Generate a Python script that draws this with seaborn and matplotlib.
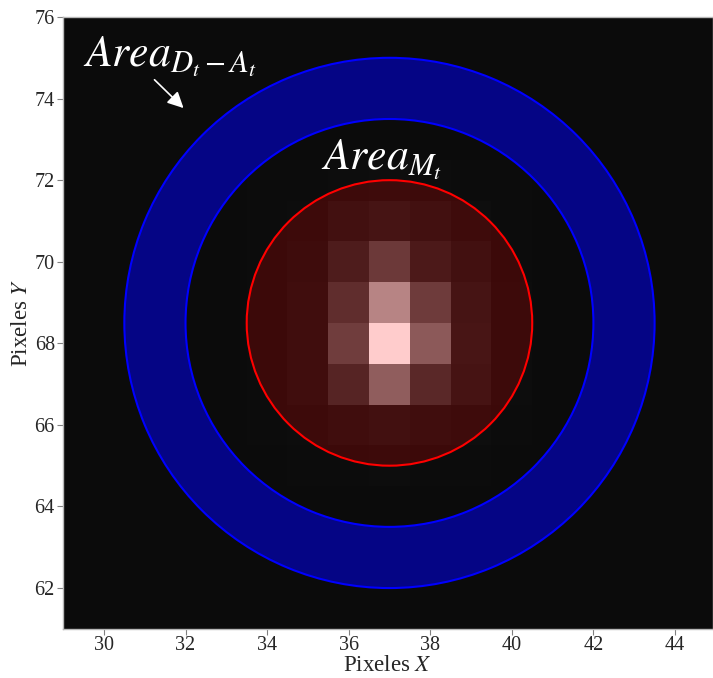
import numpy as np
import pandas as pd
import seaborn as sns
import matplotlib
matplotlib.use("Agg")
import matplotlib.pyplot as plt
from matplotlib.patches import Circle, Annulus

# ---------------- data ----------------
x_pixels = list(range(29, 46))          # pixel centres (X)
y_pixels = list(range(76, 60, -1))      # pixel centres (Y), top row first
background_level = 11

# bright source patch: columns X = 34..40, rows Y = 72..65
patch_x = [34, 35, 36, 37, 38, 39, 40]
patch_y = [72, 71, 70, 69, 68, 67, 66, 65]
patch_values = [
    [12, 12, 13, 14, 13, 12, 12],
    [12, 13, 20, 25, 20, 14, 12],
    [12, 15, 35, 72, 32, 20, 12],
    [12, 17, 57, 166, 74, 25, 13],
    [12, 17, 77, 255, 112, 27, 13],
    [12, 17, 45, 117, 50, 24, 13],
    [12, 13, 17, 20, 17, 14, 12],
    [11, 12, 12, 13, 12, 12, 11],
]

center = (37.0, 68.5)
r_aperture = 3.5
r_annulus_in = 5.0
r_annulus_out = 6.5

x_ticks = [30, 32, 34, 36, 38, 40, 42, 44]
y_ticks = [62, 64, 66, 68, 70, 72, 74, 76]

label_area_m = r"$Area_{M_t}$"
label_area_d = r"$Area_{D_t-A_t}$"
pos_area_m = (35.31, 72.27)
pos_area_d = (29.49, 74.80)
arrow_tail = (31.19, 74.51)
arrow_tip = (32.0, 73.72)

# ---------------- build image table ----------------
img = pd.DataFrame(float(background_level), index=y_pixels, columns=x_pixels)
for i, yy in enumerate(patch_y):
    for j, xx in enumerate(patch_x):
        img.loc[yy, xx] = patch_values[i][j]

# heatmap coordinate helpers (cell j spans [j, j+1])
def tx(X):
    return X - x_pixels[0] + 0.5

def ty(Y):
    return y_pixels[0] - Y + 0.5

# ---------------- plot ----------------
sns.set_style("white")
plt.rcParams["font.family"] = ["Liberation Serif", "DejaVu Serif"]
plt.rcParams["mathtext.fontset"] = "stix"

fig = plt.figure(figsize=(7.13, 6.78), dpi=100)
ax = fig.add_axes([0.0879, 0.0725, 0.9121, 0.9024])

sns.heatmap(img, ax=ax, cmap="gray", vmin=0, vmax=255, cbar=False,
            xticklabels=False, yticklabels=False)

ax.add_patch(Annulus((tx(center[0]), ty(center[1])), r_annulus_out,
                     r_annulus_out - r_annulus_in,
                     facecolor=(0, 0, 1, 0.5), edgecolor="blue", lw=1.5, zorder=3))
ax.add_patch(Circle((tx(center[0]), ty(center[1])), r_aperture,
                    facecolor=(1, 0, 0, 0.2), edgecolor="red", lw=1.5, zorder=3))

ax.text(tx(pos_area_m[0]), ty(pos_area_m[1]), label_area_m, color="white",
        fontsize=31.5, ha="left", va="baseline", zorder=5)
ax.text(tx(pos_area_d[0]), ty(pos_area_d[1]), label_area_d, color="white",
        fontsize=31.5, ha="left", va="baseline", zorder=5)
ax.annotate("", xy=(tx(arrow_tip[0]), ty(arrow_tip[1])),
            xytext=(tx(arrow_tail[0]), ty(arrow_tail[1])),
            arrowprops=dict(arrowstyle="-|>", color="white", lw=1.2,
                            mutation_scale=24), zorder=5)

ax.set_xlim(tx(29.0), tx(44.92))
ax.set_ylim(ty(61.0), ty(76.0))
ax.set_aspect("equal")

ax.set_xticks([tx(v) for v in x_ticks])
ax.set_xticklabels([str(v) for v in x_ticks], rotation=0)
ax.set_yticks([ty(v) for v in y_ticks])
ax.set_yticklabels([str(v) for v in y_ticks], rotation=0)
ax.tick_params(axis="both", which="both", direction="out", length=4, width=0.8,
               color="#808080", labelsize=14.5, left=True, bottom=True, pad=2)
ax.tick_params(axis="x", pad=1.5)

for s in ax.spines.values():
    s.set_visible(True)
    s.set_color("#b8b8b8")
    s.set_linewidth(1.0)

ax.set_xlabel(r"Pixeles $X$", fontsize=16.5, labelpad=0)
ax.set_ylabel(r"Pixeles $Y$", fontsize=16.5, labelpad=2)

fig.savefig("out.png", dpi=100)
